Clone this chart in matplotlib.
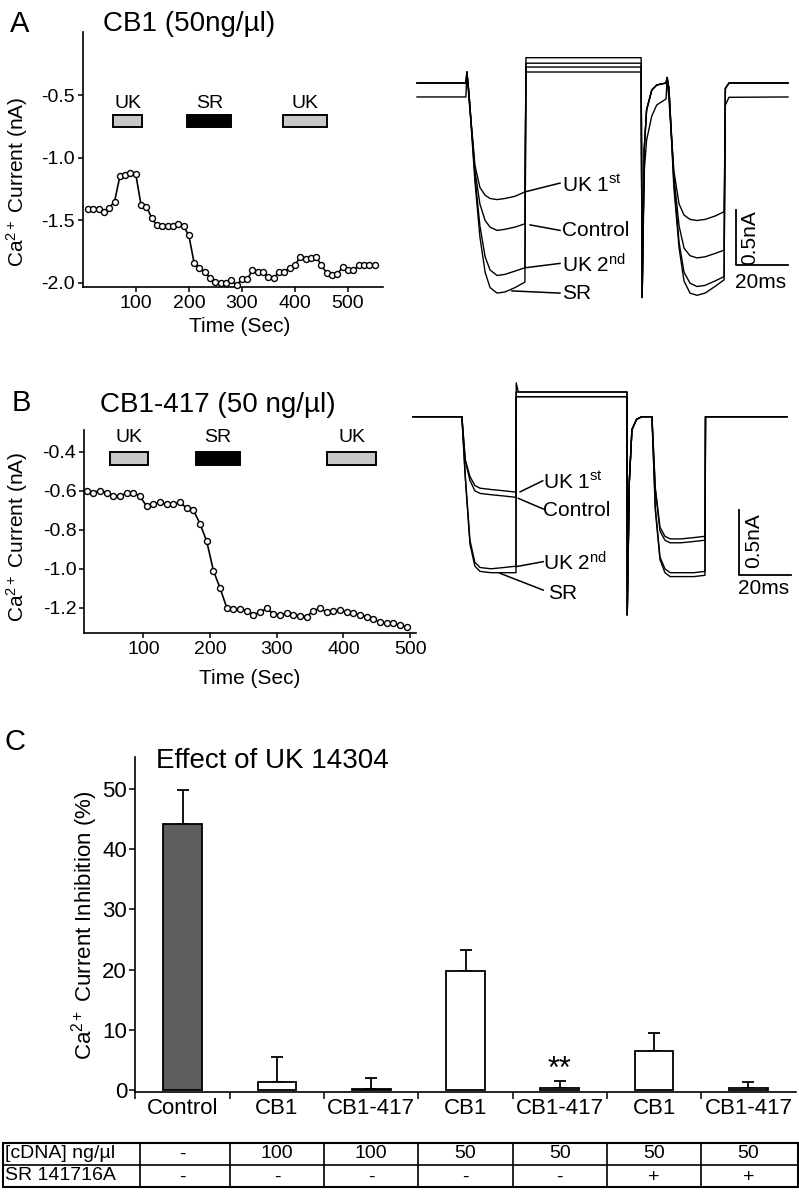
import numpy as np
import matplotlib
matplotlib.use('Agg')
import matplotlib.pyplot as plt
from matplotlib.patches import Rectangle

plt.rcParams['font.family'] = ['Liberation Sans', 'DejaVu Sans']
plt.rcParams['axes.unicode_minus'] = False
plt.rcParams['mathtext.fontset'] = 'custom'
plt.rcParams['mathtext.rm'] = 'Liberation Sans'
plt.rcParams['mathtext.it'] = 'Liberation Sans:italic'
plt.rcParams['mathtext.bf'] = 'Liberation Sans:bold'

# ---- panel A, time course (CB1 50 ng/ul)
a_time = [10, 20, 30, 40, 50, 60, 70, 80, 90, 100, 110, 120, 130, 140, 150, 160, 170, 180, 190, 200,
          210, 220, 230, 240, 250, 260, 270, 280, 290, 300, 310, 320, 330, 340, 350, 360, 370, 380, 390, 400,
          410, 420, 430, 440, 450, 460, 470, 480, 490, 500, 510, 520, 530, 540, 550]
a_curr = [-1.41, -1.41, -1.41, -1.43, -1.40, -1.35, -1.15, -1.14, -1.12, -1.13, -1.38, -1.39, -1.48, -1.54,
          -1.545, -1.545, -1.545, -1.53, -1.545, -1.62, -1.84, -1.88, -1.91, -1.96, -1.99, -2.00, -2.00, -1.98,
          -2.02, -1.97, -1.97, -1.90, -1.91, -1.91, -1.95, -1.96, -1.91, -1.91, -1.88, -1.86, -1.79, -1.81,
          -1.80, -1.79, -1.86, -1.92, -1.94, -1.93, -1.87, -1.90, -1.90, -1.86, -1.86, -1.86, -1.86]
a_drug = ['UK', 'SR', 'UK']
a_drug_on = [57, 197, 378]
a_drug_off = [112, 280, 461]

# ---- panel B, time course (CB1-417 50 ng/ul)
b_time = [15, 25, 35, 45, 55, 65, 75, 85, 95, 105, 115, 125, 135, 145, 155, 165, 175, 185, 195, 205,
          215, 225, 235, 245, 255, 265, 275, 285, 295, 305, 315, 325, 335, 345, 355, 365, 375, 385, 395, 405,
          415, 425, 435, 445, 455, 465, 475, 485, 495]
b_curr = [-0.60, -0.61, -0.60, -0.61, -0.63, -0.63, -0.61, -0.61, -0.63, -0.68, -0.67, -0.66, -0.67, -0.67,
          -0.66, -0.69, -0.70, -0.77, -0.86, -1.01, -1.10, -1.20, -1.207, -1.207, -1.215, -1.236, -1.224,
          -1.204, -1.232, -1.236, -1.229, -1.236, -1.241, -1.246, -1.215, -1.204, -1.224, -1.219, -1.212,
          -1.224, -1.229, -1.238, -1.246, -1.258, -1.275, -1.28, -1.28, -1.29, -1.30]
b_drug = ['UK', 'SR', 'UK']
b_drug_on = [50, 179, 376]
b_drug_off = [107, 245, 449]

# ---- panel A, current traces (ms, nA)
ta = [0, 18.8, 19.2, 20.0, 22.3, 24.2, 26.2, 28.1, 30.8, 33.8, 37.7, 41.5, 41.9, 86.2, 86.6, 87.4,
      88.3, 90.3, 92.2, 95.8, 96.2, 96.9, 98.8, 100.8, 102.7, 105.0, 107.7, 110.8, 114.6, 118.1, 118.6,
      120.0, 142.7]
ta_uk1 = [-0.127, -0.127, 0.10, -0.15, -0.75, -0.95, -1.02, -1.05, -1.06, -1.05, -1.03, -0.99, 0.10, 0.10,
          -1.95, -0.80, -0.52, -0.30, -0.20, -0.145, 0.05, -0.15, -0.80, -1.10, -1.20, -1.24, -1.25, -1.24,
          -1.21, -1.17, -0.20, -0.13, -0.127]
ta_ctl = [0, 0, 0.10, -0.10, -0.80, -1.10, -1.25, -1.31, -1.34, -1.33, -1.31, -1.28, 0.145, 0.145,
          -1.95, -0.60, -0.245, -0.064, -0.018, 0, 0.05, -0.05, -0.85, -1.30, -1.50, -1.57, -1.59, -1.58,
          -1.55, -1.52, -0.05, 0, 0]
ta_uk2 = [0, 0, 0.10, -0.10, -0.85, -1.30, -1.58, -1.70, -1.75, -1.74, -1.71, -1.68, 0.18, 0.18,
          -1.95, -0.60, -0.245, -0.064, -0.018, 0, 0.05, -0.05, -0.90, -1.45, -1.72, -1.82, -1.85, -1.84,
          -1.80, -1.76, -0.05, 0, 0]
ta_sr = [0, 0, 0.10, -0.10, -0.90, -1.40, -1.72, -1.86, -1.91, -1.90, -1.86, -1.81, 0.23, 0.23,
         -1.95, -0.60, -0.245, -0.064, -0.018, 0, 0.05, -0.05, -0.95, -1.50, -1.80, -1.91, -1.93, -1.91,
         -1.85, -1.79, -0.05, 0, 0]

# ---- panel B, current traces (ms, nA)
tb = [0, 18.8, 20.1, 21.9, 23.8, 25.8, 30, 35, 39.6, 39.7, 40.5, 82.3, 82.4, 83.2, 84.2, 86.0, 88.0,
      91.9, 93.2, 95.0, 96.9, 98.9, 103, 108, 112.3, 112.5, 143.8]
tb_uk1 = [0, 0, -0.33, -0.46, -0.53, -0.55, -0.56, -0.57, -0.58, 0.26, 0.19, 0.19, -1.525, -0.5, -0.1,
          -0.02, 0, 0, -0.55, -0.85, -0.92, -0.94, -0.94, -0.93, -0.92, 0, 0]
tb_ctl = [0, 0, -0.34, -0.49, -0.57, -0.59, -0.60, -0.61, -0.62, 0.19, 0.19, 0.19, -1.525, -0.5, -0.1,
          -0.02, 0, 0, -0.56, -0.88, -0.95, -0.97, -0.97, -0.96, -0.95, 0, 0]
tb_uk2 = [0, 0, -0.45, -0.95, -1.12, -1.16, -1.17, -1.16, -1.15, 0.154, 0.154, 0.154, -1.525, -0.5, -0.1,
          -0.02, 0, 0, -0.70, -1.08, -1.17, -1.20, -1.20, -1.20, -1.19, 0, 0]
tb_sr = [0, 0, -0.47, -0.98, -1.15, -1.19, -1.20, -1.20, -1.20, 0.154, 0.154, 0.154, -1.525, -0.5, -0.1,
         -0.02, 0, 0, -0.72, -1.10, -1.20, -1.23, -1.23, -1.23, -1.22, 0, 0]

# ---- panel C, bars
c_groups = ['Control', 'CB1', 'CB1-417', 'CB1', 'CB1-417', 'CB1', 'CB1-417']
c_mean = [44.2, 1.3, 0.1, 19.7, 0.3, 6.5, 0.3]
c_sem = [5.7, 4.1, 1.9, 3.5, 1.2, 3.0, 1.0]
c_cdna = ['-', '100', '100', '50', '50', '50', '50']
c_sr = ['-', '-', '-', '-', '-', '+', '+']

W, H = 799, 1199
fig = plt.figure(figsize=(W / 100, H / 100), dpi=100)


def add_px(l, t, r, b):
    return fig.add_axes([l / W, 1 - b / H, (r - l) / W, (b - t) / H])


def ftext(x, y, s, **kw):
    fig.text(x / W, 1 - y / H, s, **kw)


def time_course(ax, t, v, names, on, off, lo, hi, ly):
    ax.plot(t, v, '-o', color='k', lw=1.2, ms=4.3, mfc='white', mec='k', mew=1.0,
            clip_on=False, zorder=3)
    for n, s, e in zip(names, on, off):
        fc = 'k' if n == 'SR' else '#c8c8c8'
        ax.add_patch(Rectangle((s, lo), e - s, hi - lo, fc=fc, ec='k', lw=1.4, clip_on=False))
        ax.text((s + e) / 2, ly, n, ha='center', va='center', fontsize=14)
    for sp in ['top', 'right']:
        ax.spines[sp].set_visible(False)
    for sp in ['left', 'bottom']:
        ax.spines[sp].set_linewidth(1.2)
    ax.tick_params(direction='out', length=3.5, width=1.1, labelsize=14, pad=2)
    ax.set_xticks([100, 200, 300, 400, 500])


def traces(ax, t, curves, lab_t, lab_y, lead, bar_t, bar_i):
    for c in curves:
        ax.plot(t, c, color='k', lw=1.0, clip_on=False)
    names = ['UK 1$^{\\mathrm{st}}$', 'Control', 'UK 2$^{\\mathrm{nd}}$', 'SR']
    for n, x, y, (x0, y0, x1, y1) in zip(names, lab_t, lab_y, lead):
        ax.plot([x0, x1], [y0, y1], color='k', lw=1.1, clip_on=False)
        ax.text(x, y, n, ha='left', va='center', fontsize=15)
    # scale bar: 0.5 nA by 20 ms
    ax.plot([bar_t, bar_t, bar_t + 20], [bar_i + 0.5, bar_i, bar_i], color='k', lw=1.3, clip_on=False)
    ax.axis('off')


# panel A
axA = add_px(82.7, 32, 383, 287)
time_course(axA, a_time, a_curr, a_drug, a_drug_on, a_drug_off, -0.756, -0.66, -0.567)
axA.set_xlim(0, 566)
axA.set_ylim(-2.032, 0.003)
axA.set_yticks([-0.5, -1.0, -1.5, -2.0])
ftext(10, 32, 'A', fontsize=21, va='baseline')
ftext(103, 31, 'CB1 (50ng/µl)', fontsize=20, va='baseline')
ftext(17, 182, 'Ca$^{\\mathrm{2+}}$ Current (nA)', fontsize=15, rotation=90, ha='center', va='center')
ftext(240, 326, 'Time (Sec)', fontsize=15, ha='center', va='center')

axAt = add_px(411.8, 33.5, 794, 325)
axAt.set_xlim(-2, 145)
axAt.set_ylim(-2.2, 0.45)
traces(axAt, ta, [ta_uk1, ta_ctl, ta_uk2, ta_sr],
       [55.8, 55.8, 55.8, 55.8], [-0.93, -1.34, -1.65, -1.91],
       [(41.5, -0.99, 55.0, -0.91), (43.5, -1.29, 55.0, -1.34),
        (41.5, -1.68, 55.0, -1.64), (36.5, -1.89, 55.0, -1.91)],
       122.7, -1.655)
axAt.text(128.0, -1.41, '0.5nA', rotation=90, ha='center', va='center', fontsize=15)
axAt.text(122.5, -1.81, '20ms', ha='left', va='center', fontsize=15)

# panel B
axB = add_px(84, 430, 415.5, 633)
time_course(axB, b_time, b_curr, b_drug, b_drug_on, b_drug_off, -0.468, -0.40, -0.327)
axB.set_xlim(11, 508)
axB.set_ylim(-1.33, -0.289)
axB.set_yticks([-0.4, -0.6, -0.8, -1.0, -1.2])
axB.set_yticklabels(['-0.4', '-0.6', '-0.8', '-1.0', '-1.2'])
ftext(12, 411, 'B', fontsize=21, va='baseline')
ftext(100, 412, 'CB1-417 (50 ng/µl)', fontsize=20, va='baseline')
ftext(17, 537, 'Ca$^{\\mathrm{2+}}$ Current (nA)', fontsize=15, rotation=90, ha='center', va='center')
ftext(250, 679, 'Time (Sec)', fontsize=15, ha='center', va='center')

axBt = add_px(407.8, 371.2, 790, 624.7)
axBt.set_xlim(-2, 145)
axBt.set_ylim(-1.6, 0.35)
traces(axBt, tb, [tb_uk1, tb_ctl, tb_uk2, tb_sr],
       [50.1, 50.1, 50.1, 52.0], [-0.505, -0.718, -1.128, -1.36],
       [(41.2, -0.578, 49.9, -0.493), (40.5, -0.628, 50.1, -0.71),
        (39.5, -1.154, 50.1, -1.115), (33.5, -1.205, 50.1, -1.334)],
       125.5, -1.218)
axBt.text(131.0, -0.95, '0.5nA', rotation=90, ha='center', va='center', fontsize=15)
axBt.text(125.0, -1.32, '20ms', ha='left', va='center', fontsize=15)

# panel C
axC = add_px(135.4, 757, 795.6, 1092)
x = np.arange(len(c_groups))
colors = ['#5e5e5e'] + ['white'] * 6
axC.bar(x, c_mean, width=0.41, color=colors, edgecolor='k', linewidth=1.3, zorder=2)
axC.errorbar(x, c_mean, yerr=[np.zeros(len(x)), c_sem], fmt='none', ecolor='k',
             elinewidth=1.3, capsize=4.5, capthick=1.3, zorder=1)
axC.text(4, 2.0, '**', ha='center', va='baseline', fontsize=22)
axC.set_xlim(-0.5, 6.5)
axC.set_ylim(-0.33, 55.3)
axC.set_yticks([0, 10, 20, 30, 40, 50])
axC.set_xticks(x)
axC.set_xticklabels(c_groups)
axC.set_xticks(np.arange(-0.5, 6.0, 1.0), minor=True)
axC.tick_params(axis='x', which='major', length=0, pad=4, labelsize=16)
axC.tick_params(axis='x', which='minor', length=5, width=1.1, direction='out')
axC.tick_params(axis='y', length=4, width=1.1, direction='out', labelsize=16, pad=2)
for sp in ['top', 'right']:
    axC.spines[sp].set_visible(False)
for sp in ['left', 'bottom']:
    axC.spines[sp].set_linewidth(1.2)
ftext(5, 750, 'C', fontsize=21, va='baseline')
ftext(156, 768, 'Effect of UK 14304', fontsize=20, va='baseline')
ftext(85, 925, 'Ca$^{\\mathrm{2+}}$ Current Inhibition (%)', fontsize=16, rotation=90,
      ha='center', va='center')

# table under panel C
axT = add_px(2.6, 1143, 798, 1187)
axT.set_xlim(-1.909, 6.526)
axT.set_ylim(0, 2)
axT.axis('off')
axT.add_patch(Rectangle((-1.909, 0), 8.435, 2, fill=False, ec='k', lw=1.5, clip_on=False))
axT.plot([-1.909, 6.526], [1, 1], color='k', lw=1.2)
for b in [-0.45, 0.5, 1.5, 2.5, 3.5, 4.5, 5.5]:
    axT.plot([b, b], [0, 2], color='k', lw=1.2)
axT.text(-1.88, 1.5, '[cDNA] ng/µl', ha='left', va='center', fontsize=14)
axT.text(-1.88, 0.5, 'SR 141716A', ha='left', va='center', fontsize=14)
for i in range(len(c_groups)):
    axT.text(i, 1.5, c_cdna[i], ha='center', va='center', fontsize=14)
    axT.text(i, 0.45, c_sr[i], ha='center', va='center', fontsize=14)

fig.savefig('out.png', dpi=100)
